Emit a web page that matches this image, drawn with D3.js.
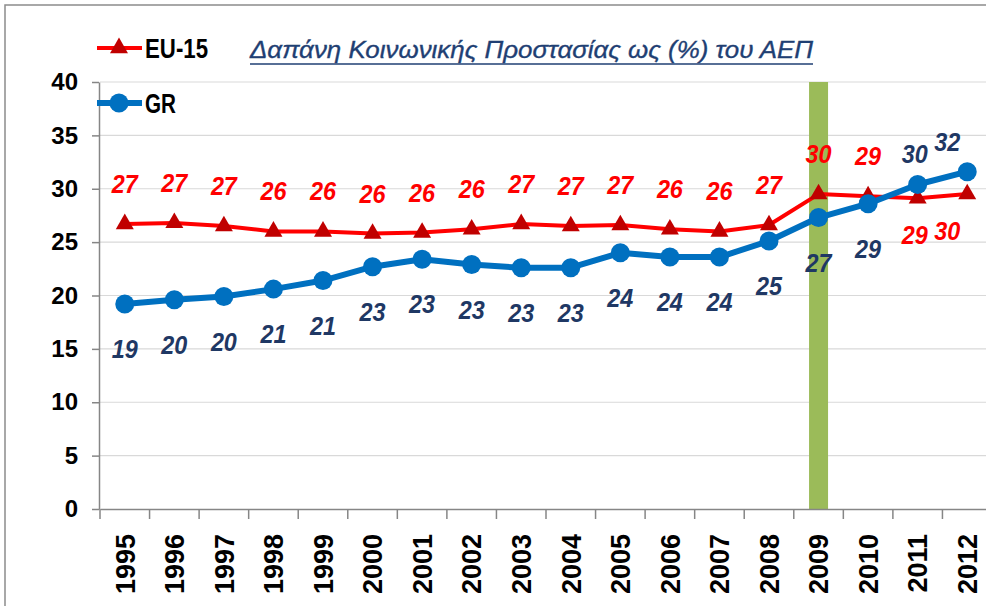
<!DOCTYPE html>
<html>
<head>
<meta charset="utf-8">
<script src="https://cdn.jsdelivr.net/npm/d3@7"></script>
<style>
  html, body { margin: 0; padding: 0; background: #fff; }
  svg { display: block; }
</style>
</head>
<body>
<svg id="chart" width="986" height="606"></svg>
<script>
// ---- data ----
const years = ["1995","1996","1997","1998","1999","2000","2001","2002","2003","2004","2005","2006","2007","2008","2009","2010","2011","2012"];
const eu15 = [26.7, 26.8, 26.5, 26.0, 26.0, 25.8, 25.9, 26.2, 26.7, 26.5, 26.6, 26.2, 26.0, 26.6, 29.5, 29.3, 29.1, 29.5];
const gr   = [19.2, 19.6, 19.9, 20.6, 21.4, 22.7, 23.4, 22.9, 22.6, 22.6, 24.0, 23.6, 23.6, 25.1, 27.3, 28.6, 30.4, 31.6];
const yTicks = [0, 5, 10, 15, 20, 25, 30, 35, 40];
const highlightYears = ["2009"];
const highlightValues = [40];
const seriesNames = ["EU-15", "GR"];
const titleText = "Δαπάνη Κοινωνικής Προστασίας ως (%) του ΑΕΠ";

// ---- styles ----
const RED = "#FF0000", DARKRED = "#C00000", BLUE = "#0070C0", NAVY = "#1F3864";
const FONT = "'Liberation Sans', Arial, sans-serif";

const svg = d3.select("#chart");

// outer frame
svg.append("rect").attr("x", 5).attr("y", 5).attr("width", 1100).attr("height", 800)
  .attr("fill", "none").attr("stroke", "#8c8c8c").attr("stroke-width", 1.5);

const x = d3.scaleBand().domain(years).range([100, 992]);
const y = d3.scaleLinear().domain([0, 40]).range([509, 82]);

// gridlines
svg.append("g").selectAll("line").data(yTicks.filter(d => d > 0)).join("line")
  .attr("x1", 100).attr("x2", 992)
  .attr("y1", d => y(d)).attr("y2", d => y(d))
  .attr("stroke", "#d9d9d9").attr("stroke-width", 1.2);

// highlight bar
svg.append("g").selectAll("rect").data(highlightYears).join("rect")
  .attr("x", d => x(d) + x.bandwidth() * 0.5 - 9.5)
  .attr("width", 19)
  .attr("y", (d, i) => y(highlightValues[i]))
  .attr("height", (d, i) => y(0) - y(highlightValues[i]))
  .attr("fill", "#9BBB59");

// y axis
const yAxis = svg.append("g").attr("transform", "translate(99,0)")
  .call(d3.axisLeft(y).tickValues(yTicks).tickSize(7).tickSizeOuter(0).tickPadding(14));
yAxis.select(".domain").attr("stroke", "#868686").attr("stroke-width", 1.5);
yAxis.selectAll(".tick line").attr("stroke", "#868686").attr("stroke-width", 1.5);
yAxis.selectAll(".tick text").attr("font-family", FONT).attr("font-size", 24)
  .attr("font-weight", "bold").attr("fill", "#000");

// x axis
const xAxis = svg.append("g").attr("transform", "translate(0,509)")
  .call(d3.axisBottom(x).tickSize(0).tickSizeOuter(0));
xAxis.select(".domain").attr("stroke", "#868686").attr("stroke-width", 1.5);
xAxis.selectAll(".tick text")
  .attr("font-family", FONT).attr("font-size", 27).attr("font-weight", "bold").attr("fill", "#000")
  .attr("transform", "rotate(-90)")
  .attr("text-anchor", "end")
  .attr("x", -25).attr("y", 0).attr("dy", "0.36em");
// boundary ticks
svg.append("g").selectAll("line").data(years).join("line")
  .attr("x1", d => x(d)).attr("x2", d => x(d))
  .attr("y1", 509).attr("y2", 519)
  .attr("stroke", "#868686").attr("stroke-width", 1.5);

const cx = d => x(d) + x.bandwidth() / 2;

// lines
const lineGen = vals => d3.line().x((d, i) => cx(years[i])).y(d => y(d))(vals);
svg.append("path").attr("d", lineGen(eu15)).attr("fill", "none")
  .attr("stroke", RED).attr("stroke-width", 4).attr("stroke-linejoin", "round");
svg.append("path").attr("d", lineGen(gr)).attr("fill", "none")
  .attr("stroke", BLUE).attr("stroke-width", 6).attr("stroke-linejoin", "round");

// markers
const tri = d3.symbol().type(d3.symbolTriangle).size(140);
svg.append("g").selectAll("path").data(eu15).join("path")
  .attr("d", tri)
  .attr("transform", (d, i) => `translate(${cx(years[i])},${y(d)})`)
  .attr("fill", DARKRED);
svg.append("g").selectAll("circle").data(gr).join("circle")
  .attr("cx", (d, i) => cx(years[i])).attr("cy", d => y(d)).attr("r", 9.5)
  .attr("fill", BLUE);

// data labels
const last = years.length - 1;
function labels(vals, other, color, upOff, downOff) {
  svg.append("g").selectAll("text").data(vals).join("text")
    .attr("x", (d, i) => cx(years[i]) + (i === last ? -20 : 0) + (i === last - 1 ? -3 : 0))
    .attr("y", (d, i) => y(d) + (d >= other[i] ? upOff : downOff))
    .attr("dy", "0.36em")
    .attr("text-anchor", "middle")
    .attr("font-family", FONT).attr("font-size", 25)
    .attr("font-weight", "bold").attr("font-style", "italic")
    .attr("fill", color)
    .attr("textLength", 26).attr("lengthAdjust", "spacingAndGlyphs")
    .text(d => Math.round(d));
}
labels(eu15, gr, RED, -40, 37);
labels(gr, eu15, NAVY, -30, 45);

// legend
const legend = [
  { name: seriesNames[0], yy: 48, color: RED, mark: DARKRED, w: 4, type: "tri" },
  { name: seriesNames[1], yy: 103, color: BLUE, mark: BLUE, w: 6, type: "circle" }
];
legend.forEach(l => {
  svg.append("line").attr("x1", 97).attr("x2", 142).attr("y1", l.yy).attr("y2", l.yy)
    .attr("stroke", l.color).attr("stroke-width", l.w);
  if (l.type === "tri") {
    svg.append("path").attr("d", tri).attr("transform", `translate(119,${l.yy})`).attr("fill", l.mark);
  } else {
    svg.append("circle").attr("cx", 119).attr("cy", l.yy).attr("r", 9.5).attr("fill", l.mark);
  }
  svg.append("text").attr("x", 145).attr("y", l.yy).attr("dy", "0.36em")
    .attr("font-family", FONT).attr("font-size", 27).attr("font-weight", "bold")
    .attr("fill", "#000")
    .attr("textLength", l.name.length > 2 ? 63 : 31).attr("lengthAdjust", "spacingAndGlyphs")
    .text(l.name);
});

// title
svg.append("text").attr("x", 250).attr("y", 58)
  .attr("font-family", FONT).attr("font-size", 24).attr("font-style", "italic")
  .attr("fill", "#1F3F73").attr("stroke", "#1F3F73").attr("stroke-width", 0.35)
  .attr("textLength", 563).attr("lengthAdjust", "spacingAndGlyphs")
  .text(titleText);
svg.append("line").attr("x1", 250).attr("x2", 813).attr("y1", 64).attr("y2", 64)
  .attr("stroke", "#1F3F73").attr("stroke-width", 1.6);
</script>
</body>
</html>
